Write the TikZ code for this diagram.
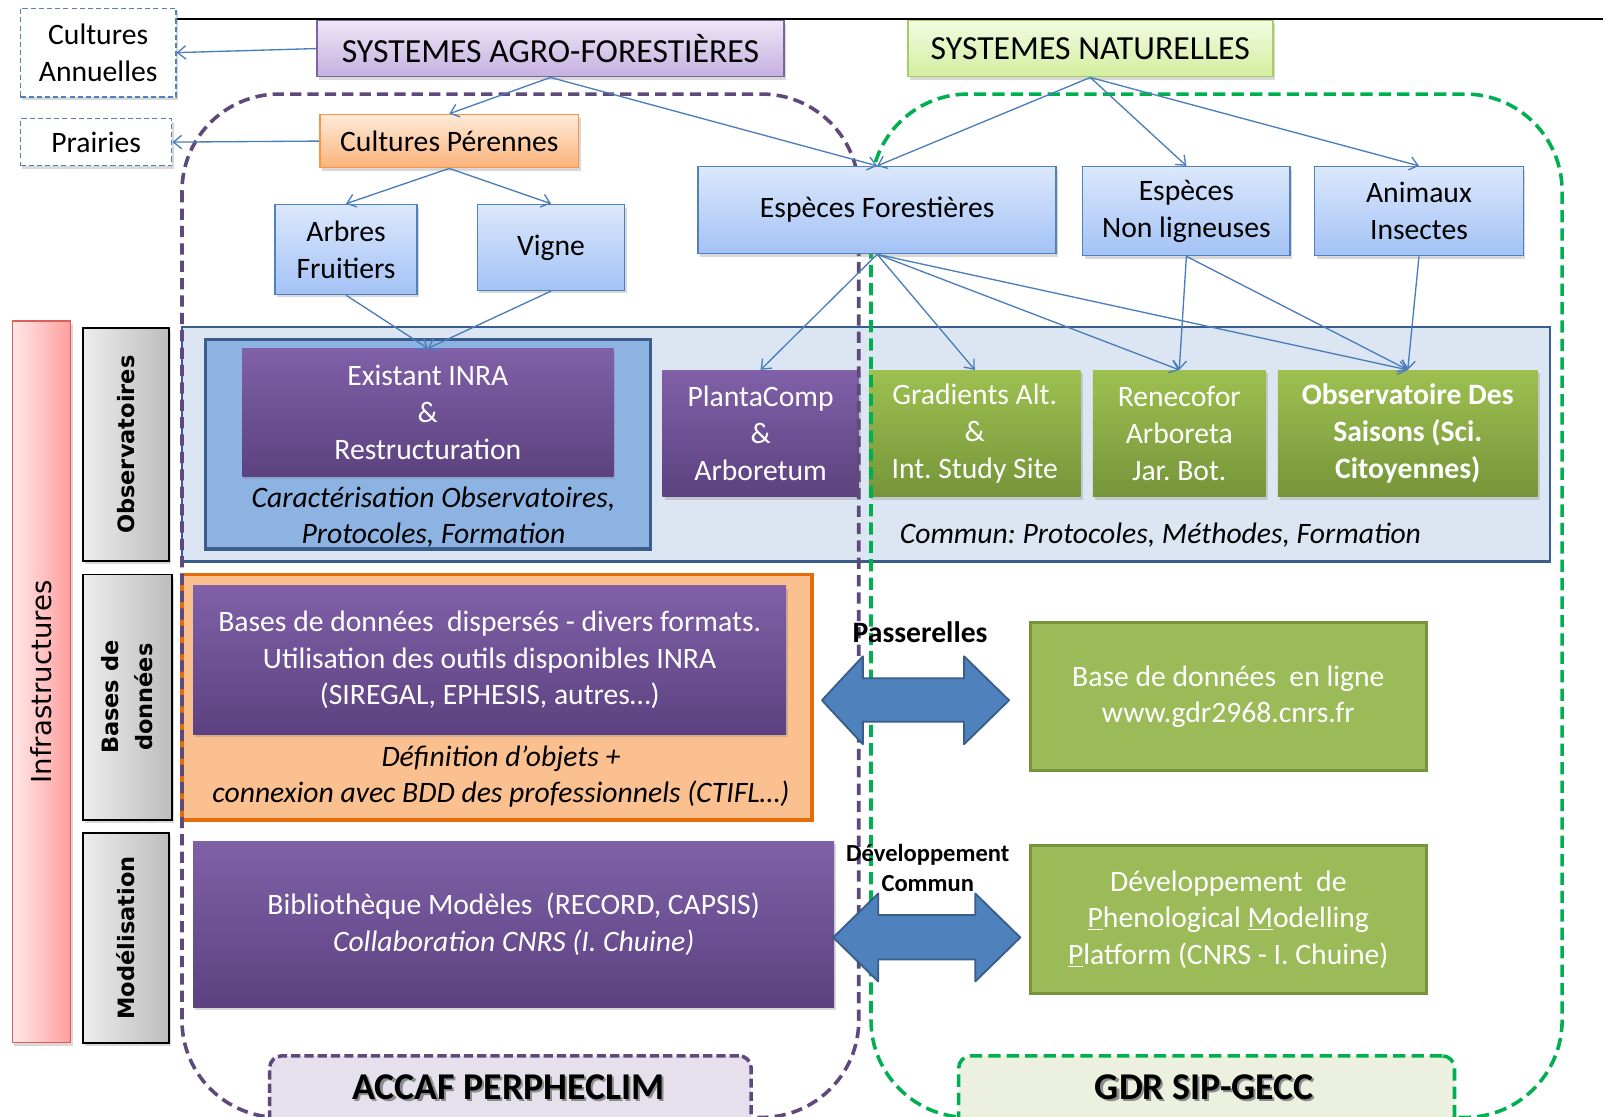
\documentclass[tikz,border=0pt]{standalone}
\usepackage{fontspec}
\setmainfont{Carlito}
\newfontfamily\dvsans{DejaVu Sans}
\usetikzlibrary{arrows.meta,shadows}
\frenchspacing
\definecolor{lnblue}{HTML}{4A7EBB}
\definecolor{bxblueT}{HTML}{DCE8FC}
\definecolor{bxblueB}{HTML}{A3C2F5}
\definecolor{bxblueD}{HTML}{4F81BD}
\definecolor{purT}{HTML}{8060A8}
\definecolor{purB}{HTML}{5C4280}
\definecolor{agT}{HTML}{EDE6F6}
\definecolor{agB}{HTML}{C5B0E0}
\definecolor{agD}{HTML}{8064A2}
\definecolor{naT}{HTML}{F3FBE3}
\definecolor{naB}{HTML}{D3EE9E}
\definecolor{naD}{HTML}{A9CC6B}
\definecolor{cpT}{HTML}{FEEADA}
\definecolor{cpB}{HTML}{FBB379}
\definecolor{cpD}{HTML}{F79646}
\definecolor{grT}{HTML}{9DC050}
\definecolor{grB}{HTML}{76953A}
\definecolor{grF}{HTML}{9BBB59}
\definecolor{grD}{HTML}{77933C}
\definecolor{bandF}{HTML}{DCE6F2}
\definecolor{bandD}{HTML}{3B5D8C}
\definecolor{innF}{HTML}{8DB3E2}
\definecolor{orF}{HTML}{FAC090}
\definecolor{orD}{HTML}{E46C0A}
\definecolor{pkL}{HTML}{FFE8E8}
\definecolor{pkR}{HTML}{FF9E9E}
\definecolor{pkD}{HTML}{D9605A}
\definecolor{gyL}{HTML}{EDEDED}
\definecolor{gyR}{HTML}{BDBDBD}
\definecolor{dashP}{HTML}{5F497A}
\definecolor{dashG}{HTML}{00B050}
\definecolor{accF}{HTML}{E5E0EC}
\definecolor{gdrF}{HTML}{EBF1DE}
\definecolor{dblF}{HTML}{4F81BD}
\definecolor{dblD}{HTML}{385D8A}
\newcommand{\myfs}[2]{\fontsize{#1}{#2}\selectfont}
\begin{document}
\begin{tikzpicture}[x=1pt,y=-1pt,
  shad/.style={drop shadow={shadow xshift=2pt,shadow yshift=-3pt,opacity=0.3}},
  txtbase/.style={inner sep=0pt, align=center, font=\myfs{29}{36}},
  dbox/.style={txtbase, draw=bxblueD, line width=1.3pt, dash pattern=on 5pt off 3pt, fill=white, shad},
  bluebox/.style={txtbase, draw=bxblueD, line width=1.5pt, top color=bxblueT, bottom color=bxblueB, shad},
  agrobox/.style={txtbase, font=\myfs{33}{40}, draw=agD, line width=1.5pt, top color=agT, bottom color=agB, shad},
  natbox/.style={txtbase, font=\myfs{33}{40}, draw=naD, line width=1.5pt, top color=naT, bottom color=naB, shad},
  orbox/.style={txtbase, draw=cpD, line width=1.5pt, top color=cpT, bottom color=cpB, shad},
  purpbox/.style={txtbase, text=white, top color=purT, bottom color=purB, shad},
  grbox/.style={txtbase, text=white, top color=grT, bottom color=grB, shad},
  gflat/.style={txtbase, text=white, fill=grF, draw=grD, line width=3pt},
  bandbox/.style={fill=bandF, draw=bandD, line width=2.5pt, inner sep=0pt},
  innerbox/.style={fill=innF, draw=bandD, line width=3pt, inner sep=0pt},
  orbig/.style={fill=orF, draw=orD, line width=3.5pt, inner sep=0pt},
  itext/.style={txtbase, font=\myfs{29}{35}\itshape},
  sidegray/.style={left color=gyL, right color=gyR, draw=black, line width=1.6pt, inner sep=0pt, shad},
  sidepink/.style={left color=pkL, right color=pkR, draw=pkD, line width=1.2pt, inner sep=0pt, shad},
  sidetext/.style={rotate=90, align=center, inner sep=0pt, font=\dvsans\bfseries\myfs{22}{33}},
  conn/.style={draw=lnblue, line width=1.3pt, -{Straight Barb[length=8pt,width=13pt]}},
  pdash/.style={draw=dashP, line width=3.5pt, dash pattern=on 11pt off 6pt, rounded corners=95pt},
  gdash/.style={draw=dashG, line width=3.5pt, dash pattern=on 12pt off 6pt, rounded corners=95pt},
  dbl/.style={fill=dblF, draw=dblD, line width=1.8pt, line join=round},
  lblbox/.style={line width=3.5pt, rounded corners=12pt, minimum height=72pt, anchor=north west, inner sep=0pt},
  lbltext/.style={font=\bfseries\myfs{37}{40}, inner sep=0pt}
]
\useasboundingbox (0,0) rectangle (1568,1092);
\fill[white] (0,0) rectangle (1568,1092);

% top rule
\coordinate (tlA) at (172,19);
\coordinate (tlB) at (1568,19);
\draw[line width=2pt] (tlA) -- (tlB);

% Observatoires band
\node[bandbox, minimum width=1338pt, minimum height=229pt] (obs) at (847,434.5) {};
\node[innerbox, minimum width=435pt, minimum height=205pt] (inr) at (418.5,434.5) {};
\node[purpbox, minimum width=363pt, minimum height=125pt] (ex) at (418.5,403.5) {Existant INRA\\\&\\Restructuration};
\node[itext] (car) at (424,505.5) {Caractérisation Observatoires,\\Protocoles, Formation};
\node[purpbox, minimum width=192pt, minimum height=124pt] (pc) at (744,424) {PlantaComp\\\&\\Arboretum};
\node[grbox, minimum width=207pt, minimum height=124pt] (gr) at (953.5,424) {Gradients Alt.\\\&\\Int. Study Site};
\node[grbox, minimum width=169pt, minimum height=124pt] (re) at (1153.5,424) {Renecofor\\Arboreta\\Jar. Bot.};
\node[grbox, minimum width=254pt, minimum height=124pt, font=\myfs{29}{36}\bfseries] (ods) at (1377,424) {Observatoire Des\\Saisons (Sci.\\Citoyennes)};
\node[itext, anchor=west] (com) at (880,523) {Commun: Protocoles, Méthodes, Formation};

% Bases de donnees
\node[orbig, minimum width=616pt, minimum height=240pt] (bdd) at (486,682) {};
\node[purpbox, minimum width=580pt, minimum height=145pt] (bdi) at (479,645.5) {Bases de données~ dispersés - divers formats.\\Utilisation des outils disponibles INRA\\(SIREGAL, EPHESIS, autres…)};
\node[itext] (def) at (490,759.5) {Définition d’objets +\\connexion avec BDD des professionnels (CTIFL…)};

% Modelisation
\node[purpbox, minimum width=627pt, minimum height=162pt] (mod) at (502.5,904) {Bibliothèque Modèles~~(RECORD, CAPSIS)\\\textit{Collaboration CNRS (I. Chuine)}};

% Right green boxes
\node[gflat, minimum width=387pt, minimum height=145pt] (gbd) at (1201.5,681.5) {Base de données~ en ligne\\www.gdr2968.cnrs.fr};
\node[gflat, minimum width=387pt, minimum height=145pt] (gpm) at (1201.5,899.5) {Développement~ de\\\underline{P}henological \underline{M}odelling\\\underline{P}latform (CNRS - I. Chuine)};

% Side labels
\node[sidepink, minimum width=57pt, minimum height=706pt] (inf) at (40.5,667) {};
\node[rotate=90, inner sep=0pt, font=\dvsans\myfs{27}{30}] (infT) at (inf.center) {Infrastructures};
\node[sidegray, minimum width=84pt, minimum height=228pt] (obsL) at (123,435) {};
\node[sidetext] (obsT) at (obsL.center) {Observatoires};
\node[sidegray, minimum width=87pt, minimum height=240pt] (bddL) at (124.5,682) {};
\node[sidetext] (bddT) at (bddL.center) {Bases de\\données};
\node[sidegray, minimum width=84pt, minimum height=205pt] (modL) at (123,917.5) {};
\node[sidetext] (modT) at (modL.center) {Modélisation};

% dashed groups
\draw[pdash] (178,92) rectangle (840,1093);
\draw[gdash] (852,92) rectangle (1528,1093);

% group labels
\node[lblbox, draw=dashP, dash pattern=on 9pt off 4pt, fill=accF, minimum width=471pt] (accB) at (262,1031) {};
\node[lbltext, text=black!45] (accS) at (499.5,1065.5) {ACCAF PERPHECLIM};
\node[lbltext] (accT) at (497.5,1063) {ACCAF PERPHECLIM};
\node[lblbox, draw=dashG, dash pattern=on 12pt off 6pt, fill=gdrF, minimum width=485pt] (gdrB) at (936,1031) {};
\node[lbltext, text=black!45] (gdrS) at (1180,1065.5) {GDR SIP-GECC};
\node[lbltext] (gdrT) at (1178,1063) {GDR SIP-GECC};

% upper boxes
\node[dbox, minimum width=152pt, minimum height=87pt] (ca) at (96,51.5) {Cultures\\Annuelles};
\node[dbox, minimum width=148pt, minimum height=46pt] (pr) at (94,139) {Prairies};
\node[agrobox, minimum width=457pt, minimum height=55pt] (agro) at (538.5,47.5) {SYSTEMES AGRO-FORESTIÈRES};
\node[natbox, minimum width=357pt, minimum height=55pt] (nat) at (1066.5,47.5) {SYSTEMES NATURELLES};
\node[orbox, minimum width=253pt, minimum height=52pt] (cp) at (439.5,138) {Cultures Pérennes};
\node[bluebox, minimum width=139pt, minimum height=88pt] (af) at (338.5,244) {Arbres\\Fruitiers};
\node[bluebox, minimum width=144pt, minimum height=84pt] (vi) at (539,242) {Vigne};
\node[bluebox, minimum width=350pt, minimum height=85pt] (ef) at (858,205.5) {Espèces Forestières};
\node[bluebox, minimum width=203pt, minimum height=87pt] (enl) at (1160.5,206.5) {Espèces\\Non ligneuses};
\node[bluebox, minimum width=204pt, minimum height=87pt] (ai) at (1388,206.5) {Animaux\\Insectes};

% connectors
\draw[conn] (agro.west) -- (ca.east);
\draw[conn] (cp.west) -- (pr.east);
\draw[conn] (agro.south) -- (cp.north);
\draw[conn] (agro.south) -- (ef.north);
\draw[conn] (cp.south) -- (af.north);
\draw[conn] (cp.south) -- (vi.north);
\draw[conn] (af.south) -- (ex.north);
\draw[conn] (vi.south) -- (ex.north);
\draw[conn] (nat.south) -- (ef.north);
\draw[conn] (nat.south) -- (enl.north);
\draw[conn] (nat.south) -- (ai.north);
\draw[conn] (ef.south) -- (pc.north);
\draw[conn] (ef.south) -- (gr.north);
\draw[conn] (ef.south) -- (re.north);
\draw[conn] (ef.south) -- (ods.north);
\draw[conn] (enl.south) -- (re.north);
\draw[conn] (enl.south) -- (ods.north);
\draw[conn] (ai.south) -- (ods.north);

% double arrows
\draw[dbl] (804,685) -- (844,642) -- (844,663.5) -- (943,663.5) -- (943,642) -- (987,685) -- (943,728) -- (943,706) -- (844,706) -- (844,728) -- cycle;
\draw[dbl] (815,917) -- (859,874) -- (859,895) -- (954,895) -- (954,874) -- (998,917) -- (954,960) -- (954,938.5) -- (859,938.5) -- (859,960) -- cycle;

\node[font=\bfseries\myfs{29}{34}, inner sep=0pt] (pas) at (900,618) {Passerelles};
\node[font=\bfseries\myfs{24}{30}, align=center, inner sep=0pt] (dev) at (907.5,849) {Développement\\Commun};
\end{tikzpicture}
\end{document}
